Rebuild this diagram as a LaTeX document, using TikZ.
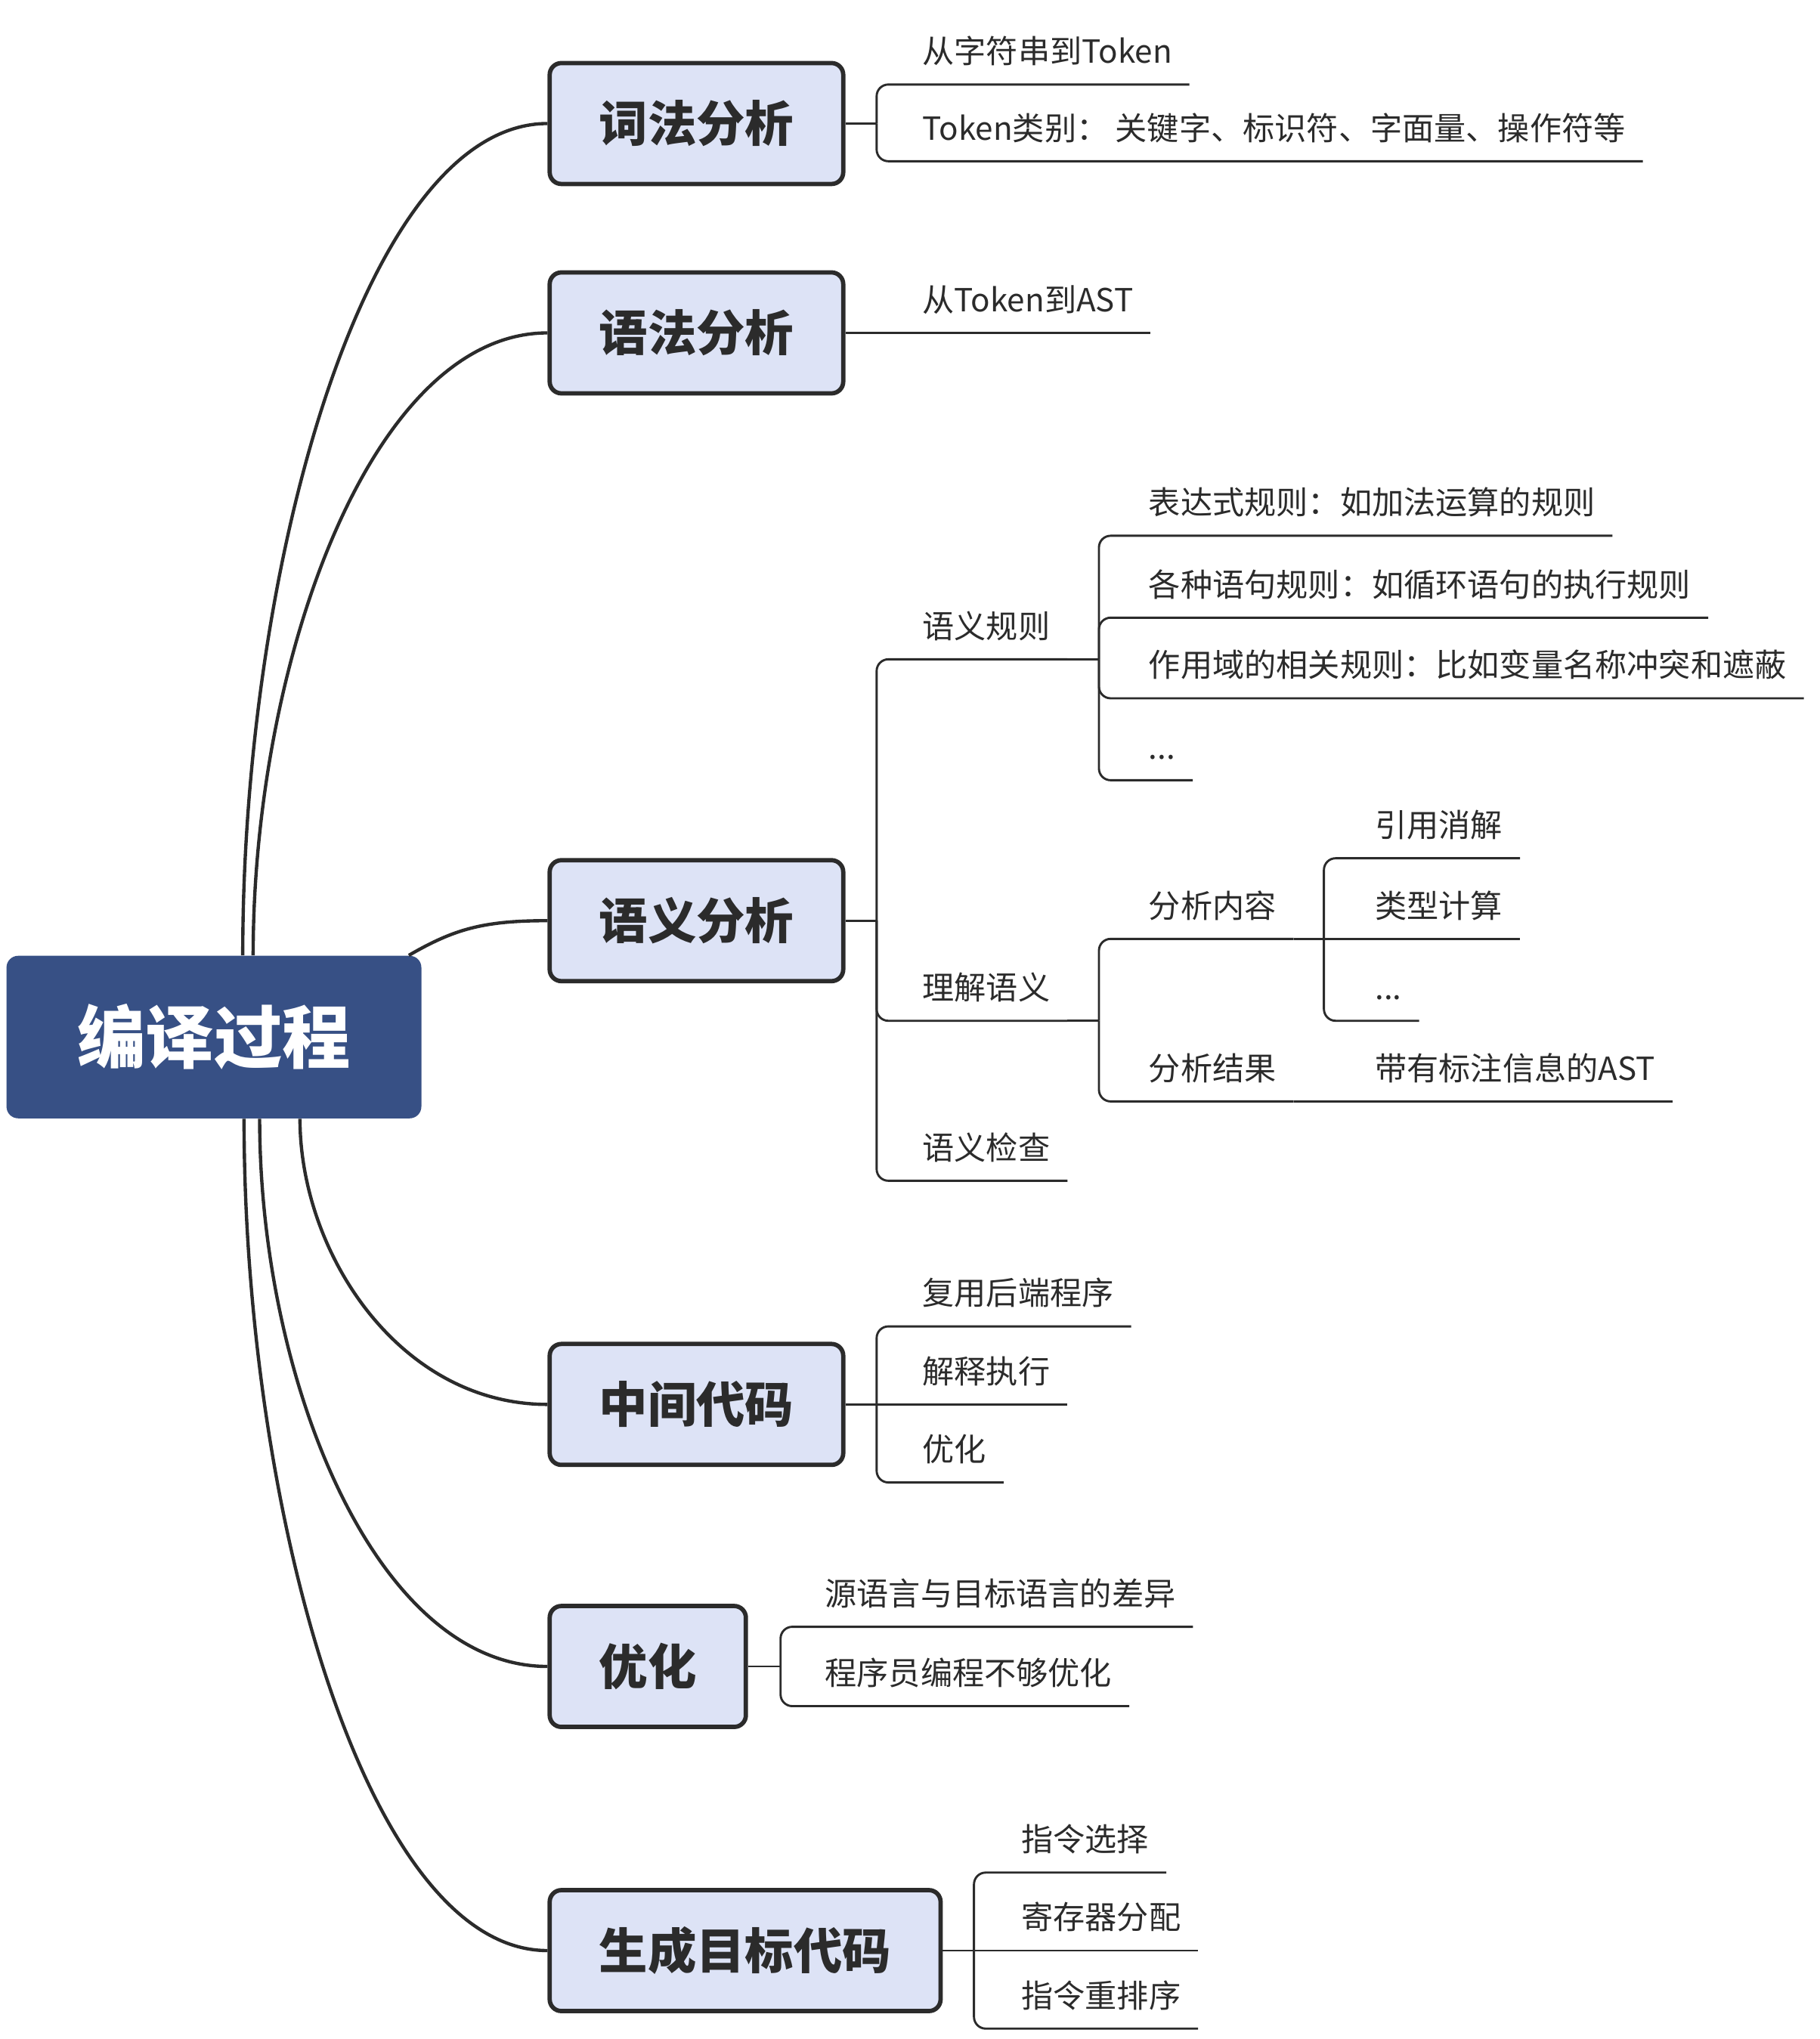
\documentclass[tikz,border=0pt]{standalone}
\usepackage{fontspec}
\setmainfont{Noto Sans CJK SC}
\usepackage{tikz}
\definecolor{rootblue}{RGB}{55,80,133}
\definecolor{topicfill}{RGB}{221,227,246}
\definecolor{inkgray}{RGB}{43,43,43}

\begin{document}
\begin{tikzpicture}[
    root/.style={rectangle, rounded corners=0.18cm, fill=rootblue, text=white, minimum width=6.38cm, minimum height=2.5cm, font=\fontsize{29.9}{32}\selectfont\bfseries, text height=25.7pt, text depth=3pt},
    topic/.style={draw=inkgray, line width=1.9pt, rounded corners=0.18cm, fill=topicfill, text=inkgray, anchor=west, minimum height=1.86cm, inner xsep=0.76cm, font=\fontsize{21.3}{24}\selectfont\bfseries, text height=18.3pt, text depth=2.1pt},
    leaf/.style={anchor=south west, inner xsep=0.26cm, inner ysep=0pt, text=inkgray, font=\fontsize{13.95}{16}\selectfont, text height=0.45cm, text depth=0.32cm},
    trunk/.style={draw=inkgray, line width=1.45pt},
    branch/.style={draw=inkgray, line width=0.95pt, rounded corners=0.18cm}
]
\useasboundingbox (0,0) rectangle (27.98,-31.36);

\node[root] (root) at (3.29,-15.95) {编译过程};

\node[topic] (lex) at (8.42,-1.90) {词法分析};
\node[topic] (syn) at (8.42,-5.12) {语法分析};
\node[topic] (sem) at (8.42,-14.16) {语义分析};
\node[topic] (ir) at (8.42,-21.60) {中间代码};
\node[topic] (opt) at (8.42,-25.63) {优化};
\node[topic] (gen) at (8.42,-30.00) {生成目标代码};

\node[leaf] (lex-str) at (13.92,-1.30) {从字符串到Token};
\node[leaf] (lex-kind) at (13.92,-2.48) {Token类别： 关键字、标识符、字面量、操作符等};
\node[leaf] (syn-ast) at (13.92,-5.12) {从Token到AST};
\node[leaf] (sem-rule) at (13.92,-10.14) {语义规则};
\node[leaf] (rule-expr) at (17.40,-8.24) {表达式规则：如加法运算的规则};
\node[leaf] (rule-stmt) at (17.40,-9.50) {各种语句规则：如循环语句的执行规则};
\node[leaf] (rule-scope) at (17.40,-10.74) {作用域的相关规则：比如变量名称冲突和遮蔽};
\node[leaf] (rule-more) at (17.40,-12.00) {...};
\node[leaf] (sem-und) at (13.92,-15.70) {理解语义};
\node[leaf] (und-what) at (17.40,-14.44) {分析内容};
\node[leaf] (what-ref) at (20.88,-13.20) {引用消解};
\node[leaf] (what-type) at (20.88,-14.44) {类型计算};
\node[leaf] (what-more) at (20.88,-15.70) {...};
\node[leaf] (und-res) at (17.40,-16.94) {分析结果};
\node[leaf] (res-ast) at (20.88,-16.94) {带有标注信息的AST};
\node[leaf] (sem-check) at (13.92,-18.16) {语义检查};
\node[leaf] (ir-reuse) at (13.92,-20.40) {复用后端程序};
\node[leaf] (ir-interp) at (13.92,-21.60) {解释执行};
\node[leaf] (ir-opt) at (13.92,-22.80) {优化};
\node[leaf] (opt-lang) at (12.42,-25.02) {源语言与目标语言的差异};
\node[leaf] (opt-prog) at (12.42,-26.24) {程序员编程不够优化};
\node[leaf] (gen-sel) at (15.44,-28.80) {指令选择};
\node[leaf] (gen-reg) at (15.44,-30.00) {寄存器分配};
\node[leaf] (gen-sched) at (15.44,-31.20) {指令重排序};

\coordinate (lex-fork) at ([xshift=0.48cm]lex.east);
\coordinate (sem-fork) at ([xshift=0.48cm]sem.east);
\coordinate (ir-fork) at ([xshift=0.48cm]ir.east);
\coordinate (opt-fork) at ([xshift=0.50cm]opt.east);
\coordinate (gen-fork) at ([xshift=0.48cm]gen.east);
\coordinate (rule-fork) at (16.90,-10.14);
\coordinate (und-fork) at (16.90,-15.70);
\coordinate (what-fork) at (20.36,-14.44);

\draw[trunk] ([xshift=3.64cm]root.north west) .. controls +(0,6) and +(-2.8,0) .. (lex.west);
\draw[trunk] ([xshift=3.80cm]root.north west) .. controls +(0,4.5) and +(-2.72,0) .. (syn.west);
\draw[trunk] ([xshift=-0.20cm]root.north east) .. controls +(30:0.8) and +(-1.0,0) .. (sem.west);
\draw[trunk] ([xshift=4.52cm]root.south west) .. controls +(0,-2.06) and +(-2.28,0) .. (ir.west);
\draw[trunk] ([xshift=3.90cm]root.south west) .. controls +(0,-3.98) and +(-2.66,0) .. (opt.west);
\draw[trunk] ([xshift=3.66cm]root.south west) .. controls +(0,-6) and +(-2.8,0) .. (gen.west);

\draw[branch] (lex.east) -- (lex-fork);
\foreach \kid in {lex-str,lex-kind}
    \draw[branch] (lex-fork) |- (\kid.south west) -- (\kid.south east);

\draw[branch] (syn.east) -- (syn-ast.south west) -- (syn-ast.south east);

\draw[branch] (sem.east) -- (sem-fork);
\foreach \kid in {sem-rule,sem-und,sem-check}
    \draw[branch] (sem-fork) |- (\kid.south west) -- (\kid.south east);
\draw[branch] (sem-rule.south east) -- (rule-fork);
\foreach \kid in {rule-expr,rule-stmt,rule-scope,rule-more}
    \draw[branch] (rule-fork) |- (\kid.south west) -- (\kid.south east);
\draw[branch] (sem-und.south east) -- (und-fork);
\foreach \kid in {und-what,und-res}
    \draw[branch] (und-fork) |- (\kid.south west) -- (\kid.south east);
\draw[branch] (und-what.south east) -- (what-fork) -- (what-type.south east);
\foreach \kid in {what-ref,what-more}
    \draw[branch] (what-fork) |- (\kid.south west) -- (\kid.south east);
\draw[branch] (und-res.south east) -- (res-ast.south west) -- (res-ast.south east);

\draw[branch] (ir.east) -- (ir-fork) -- (ir-interp.south east);
\foreach \kid in {ir-reuse,ir-opt}
    \draw[branch] (ir-fork) |- (\kid.south west) -- (\kid.south east);

\draw[branch] (opt.east) -- (opt-fork);
\foreach \kid in {opt-lang,opt-prog}
    \draw[branch] (opt-fork) |- (\kid.south west) -- (\kid.south east);

\draw[branch] (gen.east) -- (gen-fork) -- (gen-reg.south east);
\foreach \kid in {gen-sel,gen-sched}
    \draw[branch] (gen-fork) |- (\kid.south west) -- (\kid.south east);

\end{tikzpicture}
\end{document}
